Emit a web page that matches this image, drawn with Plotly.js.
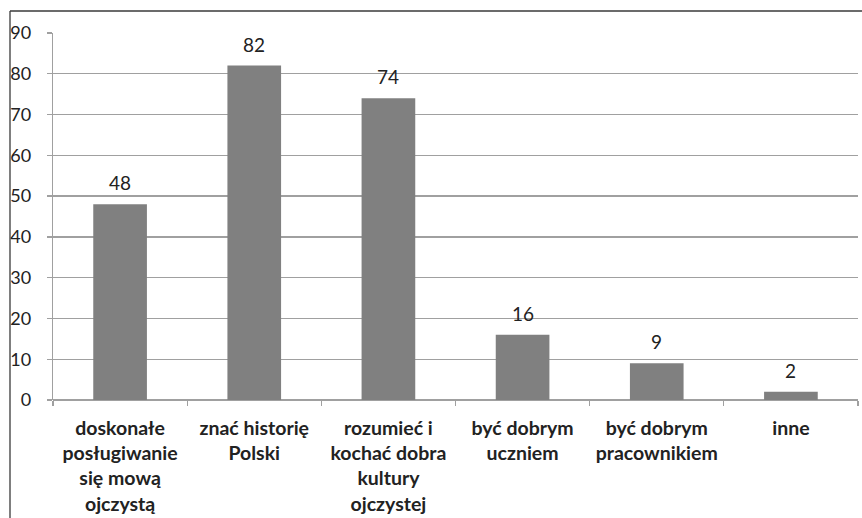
<!DOCTYPE html>
<html><head><meta charset="utf-8">
<script src="https://cdn.plot.ly/plotly-3.0.1.min.js"></script>
<style>html,body{margin:0;padding:0;background:#fff}#c{width:862px;height:518px}</style>
</head><body><div id="c"></div>
<script>
var categories = [
  "doskonałe<br>posługiwanie<br>się mową<br>ojczystą",
  "znać historię<br>Polski",
  "rozumieć i<br>kochać dobra<br>kultury<br>ojczystej",
  "być dobrym<br>uczniem",
  "być dobrym<br>pracownikiem",
  "inne"
];
var values = [48, 82, 74, 16, 9, 2];
var yTicks = [0, 10, 20, 30, 40, 50, 60, 70, 80, 90];

var FONT = "Lato, 'Open Sans', sans-serif";

var annotations = values.map(function(v, i){
  return {x: categories[i], y: v, xref:'x', yref:'y', text: String(v), showarrow:false,
          yanchor:'bottom', yshift: 8, font:{family:FONT, size:19, color:'#222'}};
});

var trace = {
  type:'bar', x: categories, y: values,
  marker:{color:'#808080', line:{width:0}},
  hoverinfo:'none'
};

var layout = {
  width:862, height:518,
  margin:{l:53, r:4, t:33, b:118},
  paper_bgcolor:'#fff', plot_bgcolor:'#fff',
  bargap:0.6,
  showlegend:false,
  font:{family:FONT, color:'#222'},
  xaxis:{
    type:'category', tickson:'boundaries', ticks:'outside', ticklen:5, tickwidth:1.3, tickcolor:'#a0a0a0',
    showline:false, showgrid:false, zeroline:false,
    tickfont:{family:FONT, size:19.5, color:'#222', weight:'bold'},
    ticklabelstandoff: 14,
    tickangle:0
  },
  yaxis:{
    range:[0,90], tickvals:yTicks, ticktext:yTicks.map(String),
    ticks:'outside', ticklen:5, tickwidth:1.3, tickcolor:'#a0a0a0',
    showline:true, linecolor:'#a0a0a0', linewidth:1.3,
    showgrid:true, gridcolor:'#a0a0a0', gridwidth:1.3,
    zeroline:true, zerolinecolor:'#a0a0a0', zerolinewidth:1.3,
    tickfont:{family:FONT, size:18, color:'#222'},
    ticklabelstandoff: 12
  },
  annotations: annotations,
  shapes:[
    {type:'line', xref:'paper', yref:'paper', x0:(10-53)/805, x1:(10-53)/805, y0:(400-11)/367, y1:(400-520)/367,
     line:{color:'#3a3a3a', width:1.3}},
    {type:'line', xref:'paper', yref:'paper', x0:(10-53)/805, x1:(864-53)/805, y0:(400-11)/367, y1:(400-11)/367,
     line:{color:'#3a3a3a', width:1.3}}
  ]
};
Plotly.newPlot('c', [trace], layout, {displayModeBar:false, staticPlot:true});
</script></body></html>
